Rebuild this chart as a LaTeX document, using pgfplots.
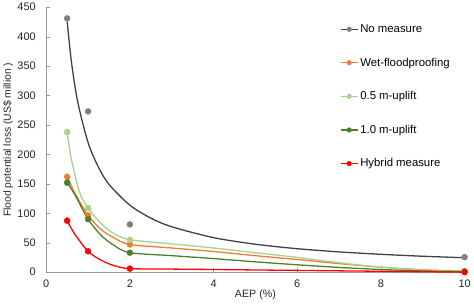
\documentclass[border=0pt]{standalone}
\usepackage{pgfplots}
\pgfplotsset{compat=1.18}
\usepackage{fontspec}
\setmainfont{Liberation Sans}

\definecolor{nomeas}{RGB}{128,128,128}
\definecolor{trend}{RGB}{64,64,64}
\definecolor{wetfp}{RGB}{237,125,49}
\definecolor{upA}{RGB}{169,209,142}
\definecolor{upB}{RGB}{76,128,46}
\definecolor{hybrid}{RGB}{255,0,0}

\pgfplotsset{
  curve/.style={smooth, line width=1.3pt, forget plot},
  pts/.style={only marks, mark=*, mark size=3pt, forget plot},
  key/.style={#1, line width=1.1pt, mark=*, mark size=2pt},
}

\begin{document}
\begin{tikzpicture}
\begin{axis}[
  scale only axis,
  width=420pt, height=266pt,
  xmin=0, xmax=10, ymin=0, ymax=450,
  xtick={0,2,4,6,8,10},
  ytick={0,50,...,450},
  axis x line*=bottom, axis y line*=left,
  axis line style={draw=gray!80},
  tick style={draw=gray!80, major tick length=4pt},
  tick align=inside,
  tick label style={font=\fontsize{11}{13}\selectfont, text=black!85},
  xticklabel style={yshift=-4pt},
  yticklabel style={xshift=-7pt},
  /pgf/number format/assume math mode=true,
  xlabel={AEP (\%)},
  ylabel={Flood potential loss (US\$ million )},
  xlabel style={font=\fontsize{10.7}{12}\selectfont, text=black!85, yshift=4pt},
  ylabel style={font=\fontsize{10.4}{12}\selectfont, text=black!85, yshift=-2.5pt},
  legend style={draw=none, fill=none, at={(0.695,0.95)}, anchor=north west,
    font=\fontsize{11.4}{13}\selectfont, row sep=20pt},
  legend cell align=left,
]
% No measure: loss points and the power trend line fitted through them
\addplot[pts, color=nomeas] coordinates {(0.5,431) (1,273) (2,81) (10,25.5)};
\addplot[curve, trend] coordinates {
  (0.5,426) (0.6,358) (0.75,290) (1,220) (1.25,178) (1.5,149) (2,113.6)
  (2.5,91.8) (3,77.1) (4,58.6) (5,47.4) (6,39.8) (7,34.4) (8,30.3) (9,27.0) (10,24.5)};
\addlegendimage{key=trend, mark options={fill=nomeas, draw=nomeas}}
\addlegendentry{No measure}

% Wet-floodproofing
\addplot[curve, wetfp] coordinates {
  (0.5,162) (0.68,135) (1,96.5) (1.32,72) (1.63,58) (2,47)
  (3,41) (4,35) (5,28) (6,21.5) (7,14.5) (8,8.5) (9,4) (10,1.5)};
\addplot[pts, color=wetfp] coordinates {(0.5,162) (1,96.5) (2,47) (10,1.5)};
\addlegendimage{key=wetfp}
\addlegendentry{Wet-floodproofing}

% 0.5 m-uplift
\addplot[curve, upA] coordinates {
  (0.5,238) (0.6,192) (0.8,135) (1,109) (1.32,82) (1.63,65) (2,55)
  (3,48) (4,41) (5,33) (6,25) (7,16) (8,8.5) (9,3.5) (10,1.5)};
\addplot[pts, color=upA] coordinates {(0.5,238) (1,109) (2,55) (10,1.5)};
\addlegendimage{key=upA}
\addlegendentry{0.5 m-uplift}

% 1.0 m-uplift
\addplot[curve, upB] coordinates {
  (0.5,152) (0.68,132) (1,90) (1.32,62) (1.63,45) (2,33)
  (3,28) (4,23) (5,17.5) (6,12.5) (7,8) (8,4.5) (9,2) (10,1)};
\addplot[pts, color=upB] coordinates {(0.5,152) (1,90) (2,33) (10,1)};
\addlegendimage{key=upB}
\addlegendentry{1.0 m-uplift}

% Hybrid measure
\addplot[curve, hybrid] coordinates {
  (0.5,87.5) (0.68,65) (1,35.5) (1.32,20) (1.63,11) (2,6)
  (3,5.2) (4,4.5) (5,3.7) (6,3) (7,2.2) (8,1.5) (9,0.7) (10,0)};
\addplot[pts, color=hybrid] coordinates {(0.5,87.5) (1,35.5) (2,6) (10,0)};
\addlegendimage{key=hybrid}
\addlegendentry{Hybrid measure}
\end{axis}
\end{tikzpicture}
\end{document}
